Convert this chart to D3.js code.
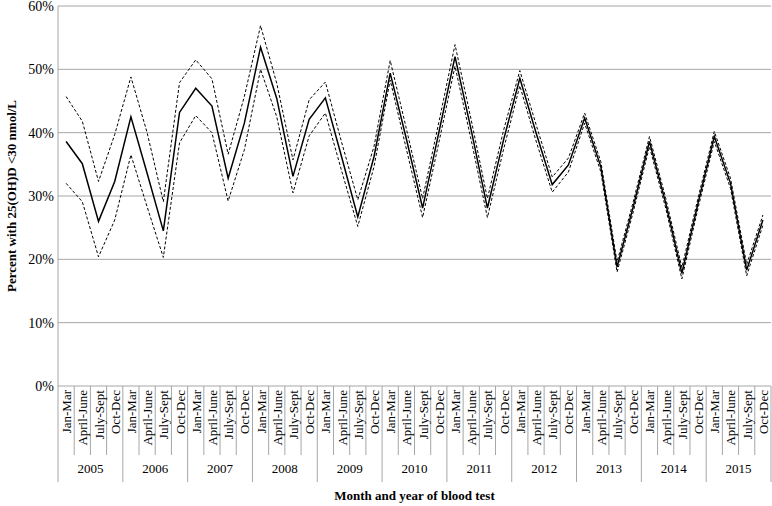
<!DOCTYPE html>
<html><head><meta charset="utf-8">
<script src="https://cdn.jsdelivr.net/npm/d3@7"></script>
<style>body{margin:0;background:#fff}svg{font-family:"Liberation Serif","Times New Roman",serif}</style>
</head><body><svg id="chart" width="772" height="506"></svg>
<script>
var years = ["2005","2006","2007","2008","2009","2010","2011","2012","2013","2014","2015"];
var quarters = ["Jan-Mar","April-June","July-Sept","Oct-Dec"];
var yTicks = [0, 10, 20, 30, 40, 50, 60];

var estimate = [38.6,35.1,26.0,32.3, 42.5,33.6,24.5,43.2, 47.0,44.2,32.8,41.5, 53.5,45.4,33.1,42.1,
  45.5,36.2,26.7,36.2, 49.4,39.0,28.1,40.0, 52.0,40.4,28.1,38.9, 48.6,40.0,31.8,34.9,
  42.3,34.6,18.8,28.3, 38.6,28.9,17.8,28.9, 39.4,32.0,18.3,26.2];
var upper = [45.7,41.8,32.3,39.7, 48.8,40.0,29.1,47.9, 51.5,48.5,36.6,45.7, 56.9,47.8,35.7,45.2,
  48.0,38.5,29.4,37.8, 51.4,40.6,29.6,41.6, 53.9,42.0,29.6,40.4, 49.8,41.3,33.0,36.0,
  43.1,35.4,19.6,29.1, 39.4,29.7,18.7,29.7, 40.2,32.8,19.2,27.0];
var lower = [32.0,29.1,20.4,26.2, 36.5,28.3,20.3,38.4, 42.7,40.0,29.2,37.3, 50.0,42.5,30.5,39.5,
  43.1,34.0,25.2,34.6, 48.3,37.4,26.6,38.4, 50.5,38.8,26.6,37.4, 47.4,38.7,30.6,33.8,
  41.5,33.8,18.0,27.5, 37.8,28.1,16.9,28.1, 38.6,31.2,17.4,25.4];

(function() {
  var cats = [];
  years.forEach(function(yr) { quarters.forEach(function(q) { cats.push(yr + "|" + q); }); });

  var svg = d3.select("#chart");
  var plotL = 58, plotR = 771, plotT = 6, plotB = 386;

  var x = d3.scaleBand().domain(cats).range([plotL, plotR]);
  var y = d3.scaleLinear().domain([0, 60]).range([plotB, plotT]);

  // gridlines
  svg.append("g").selectAll("line").data(yTicks.slice(1)).enter().append("line")
    .attr("x1", plotL).attr("x2", plotR)
    .attr("y1", function(d) { return y(d); }).attr("y2", function(d) { return y(d); })
    .attr("stroke", "#a6a6a6").attr("stroke-width", 1);

  // y axis
  svg.append("line").attr("x1", plotL).attr("x2", plotL).attr("y1", plotT).attr("y2", plotB)
    .attr("stroke", "#a6a6a6");
  svg.append("g").selectAll("text").data(yTicks).enter().append("text")
    .attr("x", plotL - 4).attr("y", function(d) { return y(d) + 5; })
    .attr("text-anchor", "end").attr("font-size", 14).text(function(d) { return d + "%"; });

  // category axis boxes
  var g = svg.append("g").attr("stroke", "#a6a6a6");
  g.append("line").attr("x1", plotL).attr("x2", plotR).attr("y1", plotB).attr("y2", plotB);
  cats.forEach(function(c, i) {
    var xx = x(c);
    g.append("line").attr("x1", xx).attr("x2", xx).attr("y1", plotB)
      .attr("y2", i % 4 == 0 ? 482 : 455);
  });
  g.append("line").attr("x1", plotR).attr("x2", plotR).attr("y1", plotB).attr("y2", 482);

  svg.append("g").selectAll("text").data(cats).enter().append("text")
    .attr("transform", function(d) { return "translate(" + (x(d) + x.bandwidth() / 2 + 5) + ",390) rotate(-90)"; })
    .attr("text-anchor", "end").attr("font-size", 13)
    .text(function(d) { return d.split("|")[1]; });

  svg.append("g").selectAll("text").data(years).enter().append("text")
    .attr("x", function(d) { return x(d + "|Jan-Mar") + 2 * x.bandwidth(); })
    .attr("y", 473).attr("text-anchor", "middle").attr("font-size", 13).text(function(d) { return d; });

  // lines
  var line = d3.line().x(function(d, i) { return x(cats[i]) + x.bandwidth() / 2; })
    .y(function(d) { return y(d); });
  svg.append("path").datum(upper).attr("d", line).attr("fill", "none")
    .attr("stroke", "#000").attr("stroke-width", 1).attr("stroke-dasharray", "3,2");
  svg.append("path").datum(lower).attr("d", line).attr("fill", "none")
    .attr("stroke", "#000").attr("stroke-width", 1).attr("stroke-dasharray", "3,2");
  svg.append("path").datum(estimate).attr("d", line).attr("fill", "none")
    .attr("stroke", "#000").attr("stroke-width", 1.5);

  // titles
  svg.append("text").attr("x", (plotL + plotR) / 2).attr("y", 500).attr("text-anchor", "middle")
    .attr("font-size", 13).attr("font-weight", "bold").text("Month and year of blood test");
  svg.append("text").attr("transform", "translate(16," + (plotT + plotB) / 2 + ") rotate(-90)")
    .attr("text-anchor", "middle").attr("font-size", 13).attr("font-weight", "bold")
    .text("Percent with 25(OH)D <30 nmol/L");
})();
</script></body></html>
